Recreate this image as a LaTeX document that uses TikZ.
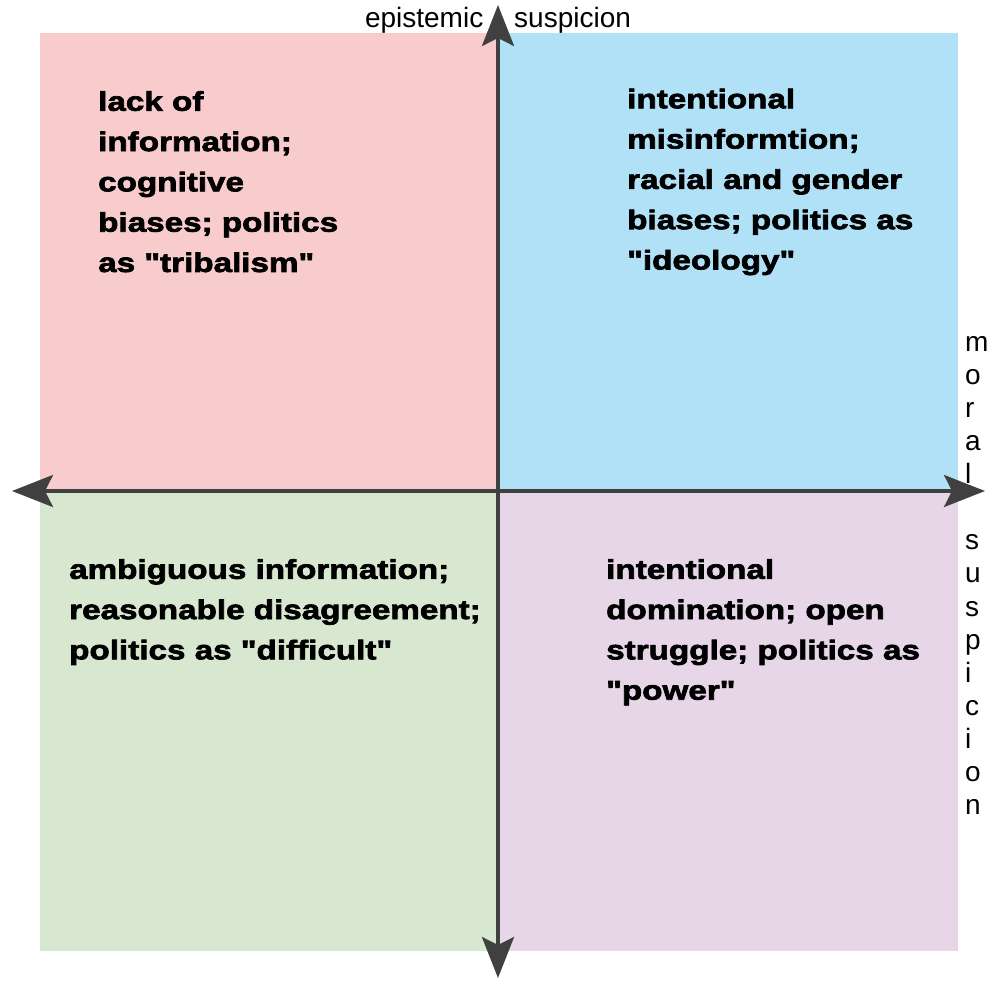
\documentclass[tikz,border=0pt]{standalone}
\usepackage{fontspec}
\setmainfont{Liberation Sans}
\newfontfamily\quadfont[FakeStretch=1.23,FakeBold=2.6]{Liberation Sans}
\usetikzlibrary{arrows.meta}
\definecolor{qpink}{RGB}{248,204,204}
\definecolor{qblue}{RGB}{176,225,246}
\definecolor{qgreen}{RGB}{216,232,208}
\definecolor{qpurple}{RGB}{230,214,232}
\definecolor{axisgray}{RGB}{64,64,64}
\begin{document}
\begin{tikzpicture}[x=1pt,y=-1pt,
  quad/.style={font=\quadfont\bfseries\fontsize{27}{40.3}\selectfont, align=left, anchor=north west, inner sep=0pt},
  axislabel/.style={font=\fontsize{28}{33.1}\selectfont, inner sep=0pt},
  axisarrow/.style={draw=axisgray, line width=3.5pt,
    {Stealth[length=41pt,width=32pt,inset=8pt]}-{Stealth[length=41pt,width=32pt,inset=8pt]}}]
\useasboundingbox (0,0) rectangle (1006,983);
\fill[white] (0,0) rectangle (1006,983);
% quadrants
\fill[qpink] (40,33) rectangle (498,491);
\fill[qblue] (498,33) rectangle (958,491);
\fill[qgreen] (40,491) rectangle (498,951);
\fill[qpurple] (498,491) rectangle (958,951);
% axes
\coordinate (top) at (498,5);
\coordinate (bottom) at (498,978);
\coordinate (left) at (12,491);
\coordinate (right) at (985,491);
\draw[axisarrow] (bottom) -- (top);
\draw[axisarrow] (left) -- (right);
% axis labels
\node[axislabel, anchor=base] (epi) at (498,27) {epistemic\hspace{31pt}suspicion};
\node[axislabel, align=left, anchor=north west] (moral) at (965,336)
  {m\\o\\r\\a\\l\\\mbox{}\\s\\u\\s\\p\\i\\c\\i\\o\\n};
% quadrant texts
\node[quad] (tl) at (98,91) {lack of\\information;\\cognitive\\biases; politics\\as "tribalism"};
\node[quad] (tr) at (627,88.5) {intentional\\misinformtion;\\racial and gender\\biases; politics as\\"ideology"};
\node[quad] (bl) at (69,559) {ambiguous information;\\reasonable disagreement;\\politics as "difficult"};
\node[quad] (br) at (606,559) {intentional\\domination; open\\struggle; politics as\\"power"};
\end{tikzpicture}
\end{document}
